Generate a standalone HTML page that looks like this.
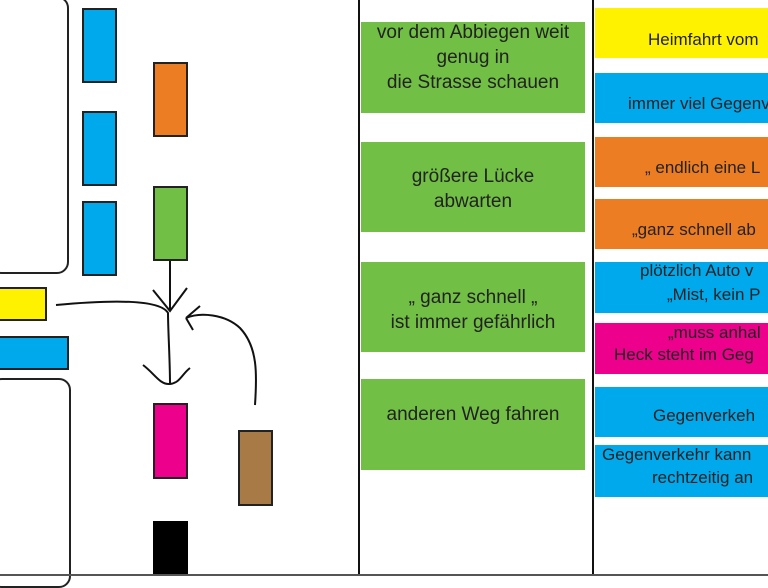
<!DOCTYPE html>
<html><head><style>
body{margin:0;width:768px;height:576px;overflow:hidden;background:#fff;font-family:"Liberation Sans",sans-serif;position:relative}
.b{position:absolute;box-sizing:border-box}
.r{border:2px solid #222}
.g{background:#71bf44;left:361px;width:224px}
.gt{position:absolute;left:355px;width:236px;text-align:center;font-size:19px;color:#222;line-height:25px;white-space:nowrap}
.c{left:595px;width:173px}
.t{position:absolute;font-size:17px;color:#222;white-space:nowrap;line-height:20px}
</style></head><body>
<div class="b" style="left:-10px;top:-4px;width:79px;height:278px;border:2px solid #222;border-radius:12px"></div>
<div class="b" style="left:-10px;top:378px;width:81px;height:210px;border:2px solid #222;border-radius:12px"></div>
<div class="b r" style="left:82px;top:8px;width:35px;height:75px;background:#00a8ec"></div>
<div class="b r" style="left:82px;top:111px;width:35px;height:75px;background:#00a8ec"></div>
<div class="b r" style="left:82px;top:201px;width:35px;height:75px;background:#00a8ec"></div>
<div class="b r" style="left:153px;top:62px;width:35px;height:75px;background:#ec7d23"></div>
<div class="b r" style="left:153px;top:186px;width:35px;height:75px;background:#71bf44"></div>
<div class="b r" style="left:-4px;top:287px;width:51px;height:34px;background:#fff200"></div>
<div class="b r" style="left:-4px;top:336px;width:73px;height:34px;background:#00a8ec"></div>
<div class="b r" style="left:153px;top:403px;width:35px;height:76px;background:#ec008c"></div>
<div class="b r" style="left:238px;top:430px;width:35px;height:76px;background:#a87a45"></div>
<div class="b" style="left:153px;top:521px;width:35px;height:55px;background:#000"></div>
<svg class="b" style="left:0;top:0" width="360" height="576" fill="none" stroke="#111" stroke-width="2">
<path d="M170 261 V311 M153 290 L170 311 L187 288"/>
<path d="M56 305 C110 300 160 299 168 313 C168 330 170 360 170 384"/>
<path d="M143 365 C155 374 160 385 170 384 C180 383 182 374 190 368"/>
<path d="M255 405 C257 375 258 347 240 328 C225 314 200 312 186 318 M186 318 L200 306 M186 318 L193 330"/>
</svg>
<div class="b" style="left:358px;top:0;width:2px;height:576px;background:#111"></div>
<div class="b" style="left:592px;top:0;width:2px;height:576px;background:#111"></div>
<div class="b" style="left:0;top:574px;width:768px;height:2px;background:#555"></div>
<div class="b g" style="top:22px;height:91px"></div>
<div class="b g" style="top:142px;height:90px"></div>
<div class="b g" style="top:262px;height:90px"></div>
<div class="b g" style="top:379px;height:91px"></div>
<div class="gt" style="top:20px">vor dem Abbiegen weit<br>genug in<br>die Strasse schauen</div>
<div class="gt" style="top:164px">größere Lücke<br>abwarten</div>
<div class="gt" style="top:285px">„ ganz schnell „<br>ist immer gefährlich</div>
<div class="gt" style="top:402px">anderen Weg fahren</div>
<div class="b c" style="top:8px;height:50px;background:#fff200"></div>
<div class="b c" style="top:73px;height:50px;background:#00a8ec"></div>
<div class="b c" style="top:137px;height:50px;background:#ec7d23"></div>
<div class="b c" style="top:199px;height:50px;background:#ec7d23"></div>
<div class="b c" style="top:262px;height:51px;background:#00a8ec"></div>
<div class="b c" style="top:323px;height:51px;background:#ec008c"></div>
<div class="b c" style="top:387px;height:50px;background:#00a8ec"></div>
<div class="b c" style="top:445px;height:52px;background:#00a8ec"></div>
<div class="t" style="left:648px;top:30px">Heimfahrt vom</div>
<div class="t" style="left:628px;top:94px">immer viel Gegenv</div>
<div class="t" style="left:645px;top:158px">„ endlich eine L</div>
<div class="t" style="left:632px;top:220px">„ganz schnell ab</div>
<div class="t" style="left:640px;top:261px">plötzlich Auto v</div>
<div class="t" style="left:667px;top:285px">„Mist, kein P</div>
<div class="t" style="left:668px;top:323px">„muss anhal</div>
<div class="t" style="left:614px;top:345px">Heck steht im Geg</div>
<div class="t" style="left:653px;top:406px">Gegenverkeh</div>
<div class="t" style="left:602px;top:445px">Gegenverkehr kann</div>
<div class="t" style="left:652px;top:468px">rechtzeitig an</div>
</body></html>
